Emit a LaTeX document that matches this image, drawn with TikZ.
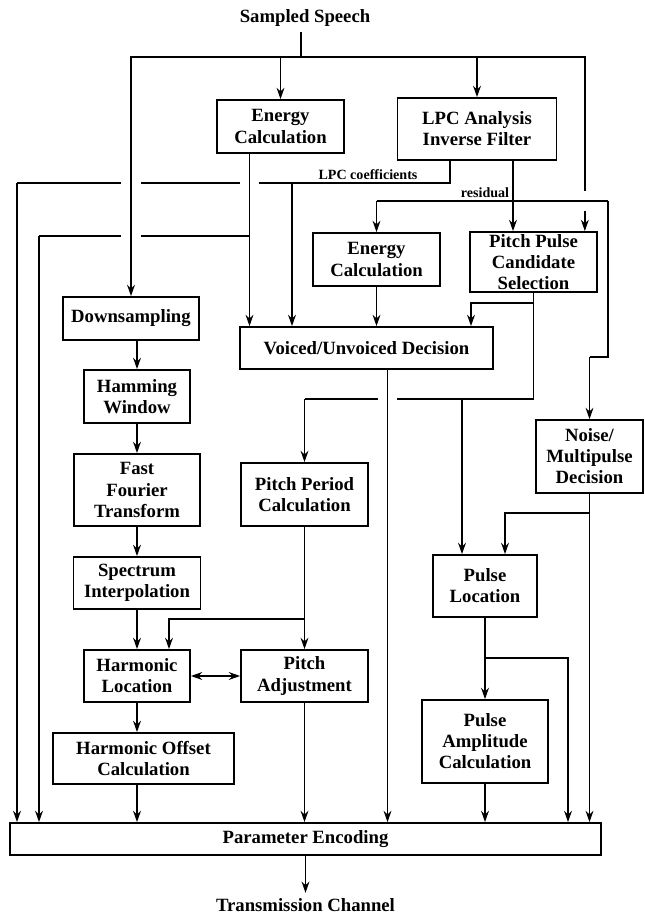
\documentclass[tikz,border=0pt]{standalone}
\usepackage{fontspec}
\setmainfont{Liberation Serif}
\usetikzlibrary{arrows.meta,calc}
\begin{document}
\begin{tikzpicture}[x=0.025cm, y=-0.025cm, line width=1.2pt,
    >={Stealth[length=8pt,width=5.5pt,inset=2.5pt]},
    every node/.style={font=\fontsize{13.3}{15}\selectfont\bfseries},
    block/.style={draw, align=center, inner sep=1pt},
    sz/.style 2 args={minimum width=#1*0.025cm, minimum height=#2*0.025cm},
    tag/.style={font=\fontsize{10}{12}\selectfont\bfseries, inner sep=1pt, anchor=base},
    hop/.style={preaction={draw, white, line width=14pt}}
]
\useasboundingbox (0,0) rectangle (644,918);

\node (speech) at (305,18) {Sampled Speech};
\node[block, sz={127}{53}] (ec1) at (280.5,126.5) {Energy\\Calculation};
\node[block, sz={159}{62}] (lpc) at (477,129) {LPC Analysis\\Inverse Filter};
\node[block, sz={127}{53}] (ec2) at (376.5,259.5) {Energy\\Calculation};
\node[block, sz={127}{60}] (ppcs) at (533.5,262) {Pitch Pulse\\Candidate\\Selection};
\node[block, sz={253}{42}] (vuv) at (366.5,348) {Voiced/Unvoiced Decision};
\node[block, sz={107}{73}] (noise) at (589.5,456.5) {Noise/\\Multipulse\\Decision};
\node[block, sz={136}{43}] (down) at (131,318.5) {Downsampling};
\node[block, sz={106}{53}] (hamming) at (137,396.5) {Hamming\\Window};
\node[block, sz={126}{72}] (fft) at (137,490) {Fast\\Fourier\\Transform};
\node[block, sz={127}{52}] (spec) at (137,583) {Spectrum\\Interpolation};
\node[block, sz={106}{52}] (harmloc) at (137,676) {Harmonic\\Location};
\node[block, sz={181}{51}] (harmoff) at (143.5,758.5) {Harmonic Offset\\Calculation};
\node[block, sz={127}{63}] (ppc) at (304.5,494.5) {Pitch Period\\Calculation};
\node[block, sz={127}{52}] (padj) at (304.5,676) {Pitch\\Adjustment};
\node[block, sz={104}{62}] (pulseloc) at (485,586) {Pulse\\Location};
\node[block, sz={126}{83}] (pulseamp) at (485,741.5) {Pulse\\Amplitude\\Calculation};
\node[block, sz={591}{32}] (pe) at (305.5,839) {Parameter Encoding};
\node (tx) at (305.5,905) {Transmission Channel};

\coordinate (bus) at (301,57);
\coordinate (sr) at ($(ppcs.north east)+(-13,0)$);
\coordinate (eo) at ($(ec1.south)+(-31,0)$);
\coordinate (ej) at (249.5,236);
\coordinate (el) at (39,236);
\coordinate (lc) at ($(lpc.south)+(-27,0)$);
\coordinate (lcj) at (450,183);
\coordinate (lcb) at (292,183);
\coordinate (lcl) at (17,183);
\coordinate (rs) at ($(lpc.south)+(36,0)$);
\coordinate (rsl) at (376.5,201);
\coordinate (rsr) at (608,201);
\coordinate (rsd) at (608,357);
\coordinate (rse) at (589.5,357);
\coordinate (vo) at ($(vuv.south)+(21,0)$);
\coordinate (ppa) at (533.5,303);
\coordinate (ppb) at (471,303);
\coordinate (ppo) at (533.5,399);
\coordinate (ppm) at (462,399);
\coordinate (ppl) at (304.5,399);
\coordinate (nsa) at (589.5,513);
\coordinate (nsb) at (505,513);
\coordinate (pla) at (485,658);
\coordinate (plb) at (568,658);
\coordinate (pda) at (304.5,619);
\coordinate (pdb) at (169,619);

% sampled speech
\draw (speech.south -| bus) -- (bus);
\draw[->] (bus) -| (down);
\draw[->] (bus) -| (ec1);
\draw[->] (bus) -| (lpc);
\draw[->] (bus) -| (sr);

% energy and lpc coefficients
\draw (ej) -- (el);
\draw[->] (eo) -- (eo |- vuv.north);
\draw[->] (el) -- (el |- pe.north);
\draw (lc) -- (lcj) -- (lcl);
\draw[->] (lcb) -- (lcb |- vuv.north);
\draw[->] (lcl) -- (lcl |- pe.north);
\node[tag] (lctag) at (368,180) {LPC coefficients};

% residual
\draw[->] (vo) -- (vo |- pe.north);
\draw[hop] (rsl) -- (rsr);
\draw[->] (rs) -- (rs |- ppcs.north);
\draw[->] (rsl) -- (ec2);
\draw (rsr) -- (rsd) -- (rse);
\draw[->] (rse) -- (noise);
\node[tag] (rstag) at (485,198) {residual};

% pitch pulse candidates
\draw[->] (ec2) -- (ec2 |- vuv.north);
\draw[->] (ppa) -- (ppb) -- (ppb |- vuv.north);
\draw (ppcs) -- (ppo) -- (ppl);
\draw[->] (ppl) -- (ppc);
\draw[->] (ppm) -- (ppm |- pulseloc.north);

% crossings without junction
\coordinate (x1) at (lcl -| down);
\coordinate (x2) at (lcl -| eo);
\coordinate (x3) at (el -| down);
\coordinate (x4) at (ppl -| vo);
\foreach \c in {x1,x2,x3,x4}
    \draw[hop] ($(\c)+(0,-8)$) -- ($(\c)+(0,8)$);

% noise and pulses
\draw[->] (noise) -- (noise |- pe.north);
\draw[->] (nsa) -- (nsb) -- (nsb |- pulseloc.north);
\draw[->] (pulseloc) -- (pulseamp);
\draw[->] (pla) -| (plb |- pe.north);
\draw[->] (pulseamp) -- (pulseamp |- pe.north);

% spectrum
\draw[->] (down.south -| hamming) -- (hamming);
\draw[->] (hamming) -- (fft);
\draw[->] (fft) -- (spec);
\draw[->] (spec) -- (harmloc);
\draw[->] (harmloc) -- (harmloc |- harmoff.north);
\draw[->] (harmoff.south -| harmloc) -- (harmloc |- pe.north);

% pitch
\draw[->] (ppc) -- (padj);
\draw[->] (pda) -- (pdb) -- (pdb |- harmloc.north);
\draw[<->] (harmloc) -- (padj);
\draw[->] (padj) -- (padj |- pe.north);
\draw[->] (pe) -- (tx);
\end{tikzpicture}
\end{document}
